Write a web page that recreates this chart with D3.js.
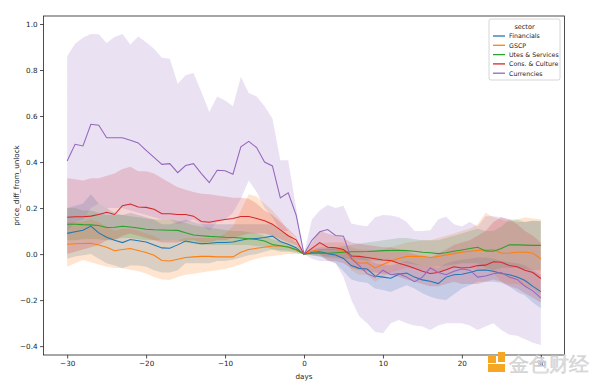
<!DOCTYPE html>
<html><head><meta charset="utf-8">
<script src="https://cdn.jsdelivr.net/npm/d3@7"></script>
<style>body{margin:0;background:#fff}svg{display:block}text{font-family:"DejaVu Sans",sans-serif}</style>
</head><body><svg id="c" width="600" height="385"></svg>
<script>
const days = [-30,-29,-28,-27,-26,-25,-24,-23,-22,-21,-20,-19,-18,-17,-16,-15,-14,-13,-12,-11,-10,-9,-8,-7,-6,-5,-4,-3,-2,-1,0,1,2,3,4,5,6,7,8,9,10,11,12,13,14,15,16,17,18,19,20,21,22,23,24,25,26,27,28,29,30];
const sectors = ["Financials","GSCP","Utes & Services","Cons. & Culture","Currencies"];
const xTicks = [-30,-20,-10,0,10,20,30];
const yTicks = [-0.4,-0.2,0.0,0.2,0.4,0.6,0.8,1.0];

const finMean = [0.09,0.097,0.104,0.122,0.092,0.073,0.06,0.05,0.063,0.058,0.053,0.04,0.027,0.025,0.04,0.057,0.05,0.045,0.047,0.05,0.05,0.053,0.06,0.067,0.068,0.072,0.078,0.055,0.043,0.028,0,
 0.008,0.01,0.002,-0.004,-0.019,-0.05,-0.062,-0.065,-0.095,-0.1,-0.105,-0.088,-0.082,-0.1,-0.112,-0.118,-0.128,-0.1,-0.09,-0.088,-0.08,-0.07,-0.069,-0.075,-0.084,-0.09,-0.1,-0.115,-0.14,-0.163];
const finHi = [0.2,0.21,0.22,0.26,0.22,0.2,0.18,0.17,0.18,0.17,0.16,0.15,0.13,0.13,0.14,0.15,0.14,0.13,0.13,0.13,0.13,0.13,0.13,0.13,0.13,0.13,0.13,0.1,0.08,0.05,0,
 0.02,0.03,0.03,0.03,0.02,0,-0.01,-0.02,-0.04,-0.045,-0.05,-0.04,-0.03,-0.04,-0.05,-0.05,-0.06,-0.04,-0.03,-0.025,-0.02,-0.015,-0.015,-0.02,-0.03,-0.035,-0.04,-0.05,-0.07,-0.09];
const finLo = [-0.02,-0.01,-0.005,0,-0.02,-0.04,-0.05,-0.06,-0.05,-0.05,-0.055,-0.07,-0.08,-0.08,-0.07,-0.04,-0.04,-0.04,-0.04,-0.03,-0.03,-0.025,-0.015,-0.005,0,0.01,0.02,0.01,0.01,0.005,0,
 -0.005,-0.01,-0.025,-0.04,-0.075,-0.11,-0.12,-0.125,-0.15,-0.156,-0.165,-0.15,-0.135,-0.15,-0.17,-0.185,-0.195,-0.2,-0.175,-0.15,-0.135,-0.12,-0.12,-0.12,-0.125,-0.14,-0.165,-0.18,-0.21,-0.235];

const gscpMean = [0.043,0.045,0.046,0.047,0.04,0.03,0.015,0.02,0.024,0.016,0.007,-0.005,-0.028,-0.03,-0.022,-0.015,-0.012,-0.01,-0.01,-0.012,-0.012,-0.012,0.008,0.02,0.025,0.03,0.035,0.036,0.03,0.018,0,
 0.012,0.02,0.02,0.02,0.017,-0.02,-0.04,-0.038,-0.06,-0.045,-0.03,-0.019,-0.01,-0.009,-0.01,-0.015,-0.01,-0.004,0.002,0.008,0.012,0.016,0.018,0.02,0.004,0.005,0.008,0.009,0.004,-0.02];
const gscpHi = [0.14,0.14,0.14,0.15,0.14,0.12,0.1,0.11,0.11,0.1,0.09,0.08,0.06,0.06,0.06,0.07,0.07,0.07,0.07,0.07,0.09,0.12,0.19,0.26,0.25,0.22,0.19,0.15,0.1,0.06,0,
 0.03,0.045,0.05,0.05,0.05,0.03,0.02,0.02,0.01,0.02,0.03,0.04,0.05,0.055,0.06,0.06,0.07,0.08,0.09,0.1,0.11,0.13,0.18,0.16,0.15,0.14,0.15,0.16,0.155,0.15];
const gscpLo = [-0.055,-0.04,-0.026,-0.035,-0.045,-0.055,-0.06,-0.062,-0.068,-0.075,-0.084,-0.1,-0.11,-0.113,-0.1,-0.09,-0.085,-0.08,-0.075,-0.07,-0.065,-0.055,-0.045,-0.03,-0.02,-0.012,-0.008,-0.004,0,0,0,
 -0.005,-0.005,-0.01,-0.01,-0.015,-0.07,-0.09,-0.09,-0.12,-0.1,-0.08,-0.07,-0.06,-0.065,-0.07,-0.075,-0.08,-0.07,-0.06,-0.06,-0.06,-0.07,-0.07,-0.08,-0.12,-0.13,-0.13,-0.14,-0.15,-0.18];

const utesMean = [0.13,0.13,0.128,0.127,0.124,0.116,0.117,0.121,0.118,0.113,0.108,0.106,0.105,0.104,0.103,0.093,0.083,0.08,0.077,0.075,0.073,0.072,0.07,0.067,0.063,0.057,0.042,0.036,0.031,0.02,0,
 0.004,0.005,0.004,0.006,0.008,0.01,0.01,0.011,0.013,0.015,0.016,0.017,0.015,0.012,0.008,0.006,0.002,0.006,0.012,0.018,0.024,0.03,0.014,0.012,0.024,0.04,0.04,0.039,0.038,0.038];
const utesHi = [0.2,0.2,0.19,0.19,0.18,0.17,0.17,0.17,0.165,0.16,0.155,0.15,0.15,0.15,0.145,0.135,0.125,0.12,0.115,0.11,0.105,0.1,0.1,0.095,0.09,0.08,0.065,0.055,0.045,0.03,0,
 0.015,0.02,0.025,0.03,0.035,0.04,0.045,0.05,0.055,0.06,0.065,0.07,0.07,0.065,0.06,0.06,0.06,0.07,0.08,0.09,0.1,0.11,0.1,0.1,0.12,0.15,0.15,0.14,0.145,0.145];
const utesLo = [0.06,0.06,0.065,0.065,0.065,0.06,0.065,0.07,0.07,0.065,0.06,0.06,0.06,0.06,0.06,0.05,0.045,0.04,0.04,0.04,0.04,0.04,0.04,0.04,0.035,0.032,0.02,0.017,0.015,0.01,0,
 -0.005,-0.01,-0.015,-0.018,-0.02,-0.02,-0.025,-0.028,-0.03,-0.03,-0.03,-0.035,-0.04,-0.045,-0.05,-0.05,-0.055,-0.05,-0.045,-0.04,-0.04,-0.04,-0.06,-0.07,-0.06,-0.06,-0.06,-0.065,-0.07,-0.07];

const consMean = [0.16,0.162,0.162,0.165,0.172,0.182,0.172,0.21,0.218,0.205,0.203,0.195,0.175,0.175,0.172,0.172,0.165,0.142,0.138,0.145,0.15,0.155,0.163,0.163,0.155,0.145,0.13,0.105,0.08,0.062,0,
 0.025,0.05,0.03,0.028,0.02,-0.008,-0.01,-0.015,-0.02,-0.026,-0.028,-0.04,-0.05,-0.062,-0.075,-0.084,-0.08,-0.068,-0.055,-0.06,-0.058,-0.05,-0.048,-0.033,-0.035,-0.05,-0.055,-0.07,-0.08,-0.106];
const consHi = [0.33,0.325,0.32,0.33,0.33,0.34,0.35,0.37,0.38,0.36,0.36,0.35,0.33,0.31,0.29,0.28,0.27,0.262,0.26,0.255,0.25,0.245,0.245,0.24,0.22,0.19,0.17,0.14,0.11,0.075,0,
 0.05,0.1,0.09,0.08,0.07,0.05,0.045,0.04,0.035,0.03,0.03,0.02,0.01,0,-0.01,-0.015,0,0.02,0.04,0.05,0.06,0.08,0.1,0.14,0.16,0.15,0.13,0.1,0.08,0.05];
const consLo = [0,0.01,0.02,0.03,0.04,0.06,0.06,0.08,0.09,0.08,0.07,0.06,0.05,0.05,0.05,0.06,0.06,0.05,0.05,0.06,0.06,0.07,0.08,0.09,0.09,0.09,0.08,0.065,0.05,0.04,0,
 0,0,-0.03,-0.03,-0.04,-0.06,-0.07,-0.075,-0.08,-0.085,-0.09,-0.1,-0.11,-0.12,-0.13,-0.14,-0.14,-0.13,-0.12,-0.13,-0.13,-0.13,-0.12,-0.11,-0.12,-0.14,-0.15,-0.17,-0.19,-0.21];

const currMean = [0.405,0.477,0.47,0.564,0.56,0.506,0.506,0.506,0.495,0.483,0.451,0.42,0.39,0.393,0.354,0.385,0.393,0.35,0.311,0.364,0.362,0.347,0.466,0.49,0.463,0.4,0.383,0.244,0.266,0.17,0,
 0.06,0.097,0.107,0.081,0.078,-0.02,-0.05,-0.085,-0.1,-0.07,-0.09,-0.085,-0.1,-0.12,-0.1,-0.06,-0.08,-0.09,-0.075,-0.065,-0.07,-0.1,-0.095,-0.085,-0.08,-0.1,-0.11,-0.14,-0.16,-0.19];
const currHi = [0.86,0.914,0.94,0.957,0.955,0.917,0.943,0.957,0.911,0.946,0.921,0.892,0.853,0.849,0.74,0.777,0.787,0.704,0.617,0.685,0.668,0.642,0.77,0.7,0.685,0.642,0.589,0.408,0.408,0.2,0,
 0.15,0.19,0.213,0.2,0.21,0.133,0.125,0.121,0.16,0.17,0.168,0.16,0.14,0.1,0.1,0.104,0.15,0.162,0.13,0.12,0.14,0.12,0.165,0.165,0.16,0.15,0.14,0.14,0.145,0.142];
const currLo = [0.1,0.14,0.15,0.2,0.22,0.2,0.2,0.2,0.19,0.18,0.17,0.16,0.15,0.15,0.13,0.14,0.15,0.13,0.1,0.14,0.15,0.18,0.24,0.32,0.27,0.2,0.16,0.1,0.1,0.07,0,
 -0.02,-0.03,-0.03,-0.04,-0.1,-0.2,-0.27,-0.3,-0.337,-0.344,-0.3,-0.286,-0.3,-0.31,-0.315,-0.33,-0.31,-0.3,-0.3,-0.3,-0.31,-0.33,-0.315,-0.3,-0.33,-0.35,-0.355,-0.37,-0.385,-0.395];

const colors = ["#1f77b4","#ff7f0e","#2ca02c","#d62728","#9467bd"];
const means = [finMean,gscpMean,utesMean,consMean,currMean];
const his = [finHi,gscpHi,utesHi,consHi,currHi];
const los = [finLo,gscpLo,utesLo,consLo,currLo];

const svg = d3.select("#c");
const L = 43.5, R = 564.5, T = 16, B = 355;
const x = d3.scaleLinear().domain([-33,33]).range([L,R]);
const y = d3.scaleLinear().domain([-0.4385,1.0347]).range([B,T]);

const g = svg.append("g");
sectors.forEach((s,i)=>{
  const pts = days.map((d,j)=>({d, m:means[i][j], lo:los[i][j], hi:his[i][j]}));
  g.append("path").datum(pts)
    .attr("d", d3.area().x(p=>x(p.d)).y0(p=>y(p.lo)).y1(p=>y(p.hi)))
    .attr("fill", colors[i]).attr("fill-opacity", 0.2).attr("stroke","none");
});
sectors.forEach((s,i)=>{
  const pts = days.map((d,j)=>({d, m:means[i][j]}));
  g.append("path").datum(pts)
    .attr("d", d3.line().x(p=>x(p.d)).y(p=>y(p.m)))
    .attr("fill","none").attr("stroke", colors[i]).attr("stroke-width",1.05);
});

const fmt = v => (v<0?"\u2212":"") + Math.abs(v);
const xa = svg.append("g").attr("transform",`translate(0,${B})`)
  .call(d3.axisBottom(x).tickValues(xTicks).tickSize(3.5).tickPadding(2.5).tickFormat(fmt));
const ya = svg.append("g").attr("transform",`translate(${L},0)`)
  .call(d3.axisLeft(y).tickValues(yTicks).tickSize(3.5).tickPadding(2.5).tickFormat(v=>(v<0?"\u2212":"")+Math.abs(v).toFixed(1)));
[xa,ya].forEach(a=>{a.select(".domain").remove(); a.selectAll("text").attr("font-size",7.2).attr("fill","#222").attr("font-family","DejaVu Sans"); a.selectAll("line").attr("stroke","#222").attr("stroke-width",0.8);});
svg.append("rect").attr("x",L).attr("y",T).attr("width",R-L).attr("height",B-T).attr("fill","none").attr("stroke","#222").attr("stroke-width",0.8);

svg.append("text").attr("x",(L+R)/2).attr("y",379).attr("text-anchor","middle").attr("font-size",7.2).attr("fill","#222").text("days");
svg.append("text").attr("transform",`translate(19,${(T+B)/2}) rotate(-90)`).attr("text-anchor","middle").attr("font-size",7.2).attr("fill","#222").text("price_diff_from_unlock");

// legend
const lg = svg.append("g");
lg.append("rect").attr("x",489).attr("y",19).attr("width",71).attr("height",61).attr("rx",2)
  .attr("fill","#fff").attr("fill-opacity",0.8).attr("stroke","#ccc").attr("stroke-width",0.8);
lg.append("text").attr("x",524.5).attr("y",28.5).attr("text-anchor","middle").attr("font-size",6.5).attr("fill","#222").text("sector");
sectors.forEach((s,i)=>{
  const yy = 36 + i*9.3;
  lg.append("line").attr("x1",493).attr("x2",505).attr("y1",yy).attr("y2",yy).attr("stroke",colors[i]).attr("stroke-width",1.3);
  lg.append("text").attr("x",509).attr("y",yy+2.3).attr("font-size",6.3).attr("fill","#222").text(s);
});

// watermark
const wm = svg.append("g");
wm.append("rect").attr("x",488).attr("y",355).attr("width",8).attr("height",8).attr("fill","#f5a623");
wm.append("rect").attr("x",488).attr("y",364).attr("width",17).attr("height",8).attr("fill","#f5a623");
wm.append("rect").attr("x",498).attr("y",352).attr("width",7).attr("height",10).attr("fill","#f5a623");
wm.append("text").attr("x",509).attr("y",371).attr("font-family","Noto Sans CJK SC").attr("font-size",20)
  .attr("fill","#dcdcdc").attr("fill-opacity",0.9).attr("stroke","#c4c4c4").attr("stroke-width",0.4).text("金色财经");
</script></body></html>
